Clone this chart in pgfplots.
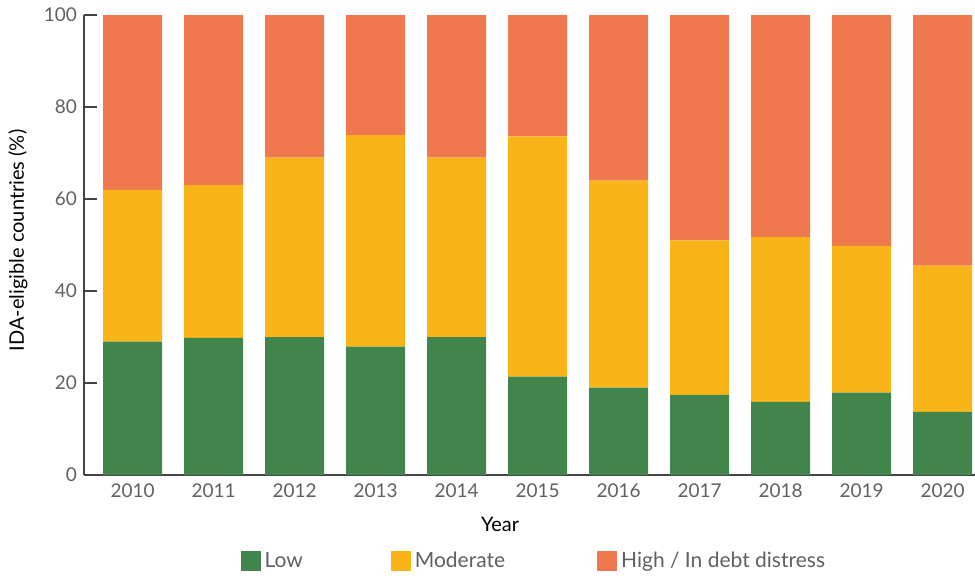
\documentclass[border=0pt]{standalone}
\usepackage{pgfplots}
\pgfplotsset{compat=1.18}
\usepackage{fontspec}
\setmainfont{Lato}
\definecolor{cLow}{HTML}{41854C}
\definecolor{cMod}{HTML}{F9B418}
\definecolor{cHigh}{HTML}{F0784E}
\definecolor{txt}{HTML}{606060}
\definecolor{axc}{HTML}{444444}
\begin{document}
\begin{tikzpicture}
\useasboundingbox (0,0) rectangle (487.5pt,287.5pt);
\begin{axis}[
  at={(42pt,50pt)}, anchor=south west,
  scale only axis, width=445.5pt, height=230pt,
  ybar stacked, bar width=29.5pt,
  xmin=-0.6, xmax=10.4, ymin=0, ymax=100,
  axis x line*=bottom, axis y line*=left,
  axis line style={axc, line width=0.6pt},
  xtick={0,...,10},
  xticklabels={2010,2011,2012,2013,2014,2015,2016,2017,2018,2019,2020},
  ytick={0,20,40,60,80,100},
  tick align=inside, major tick length=6.5pt,
  y tick style={axc, line width=0.6pt},
  x tick style={draw=none},
  /pgf/number format/assume math mode=true,
  tick label style={font=\fontsize{9.5pt}{11pt}\selectfont, text=txt},
  xticklabel style={yshift=-1pt},
  xlabel={Year}, ylabel={IDA-eligible countries (\%)},
  label style={font=\fontsize{10pt}{12pt}\selectfont, text=txt},
  every axis x label/.style={at={(axis description cs:0.467,-0.1065)}, anchor=center},
  every axis y label/.style={at={(axis description cs:-0.074,0.51)}, anchor=center, rotate=90},
  legend style={at={(0.506,-0.187)}, anchor=center, draw=none, fill=none,
    legend columns=3, font=\fontsize{10.5pt}{12pt}\selectfont, text=txt,
    /tikz/column 2/.style={column sep=42pt},
    /tikz/column 4/.style={column sep=44pt}},
  legend image code/.code={\fill[#1] (0pt,-5pt) rectangle (10pt,5pt);},
  legend cell align=left,
]
\addplot[fill=cLow, draw=none] coordinates {(0,29) (1,29.8) (2,30) (3,27.9) (4,30) (5,21.4) (6,19) (7,17.4) (8,15.9) (9,17.9) (10,13.7)};
\addplot[fill=cMod, draw=none] coordinates {(0,33) (1,33.2) (2,39) (3,46) (4,39) (5,52.2) (6,45) (7,33.6) (8,35.8) (9,31.9) (10,31.8)};
\addplot[fill=cHigh, draw=none] coordinates {(0,38) (1,37) (2,31) (3,26.1) (4,31) (5,26.4) (6,36) (7,49) (8,48.3) (9,50.2) (10,54.5)};
\legend{Low, Moderate, High / In debt distress}
\end{axis}
\end{tikzpicture}
\end{document}
